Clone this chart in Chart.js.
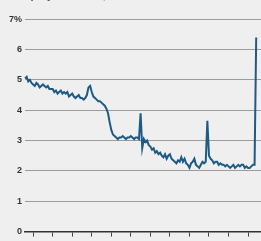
<!DOCTYPE html>
<html>
<head>
<meta charset="utf-8">
<script src="https://cdn.jsdelivr.net/npm/chart.js@4"></script>
<style>
  html, body { margin: 0; padding: 0; background: #efefef; overflow: hidden; }
  .wrap { position: relative; width: 261px; height: 241px; overflow: hidden; }
  #myChart { position: absolute; left: 0; top: -6px; }
</style>
</head>
<body>
<div class="wrap"><canvas id="myChart" width="279" height="246"></canvas></div>
<script>
const monthNames = ['Jan', 'Feb', 'Mar', 'Apr', 'May', 'Jun', 'Jul', 'Aug', 'Sep', 'Oct', 'Nov', 'Dec'];
const startYear = 2004;
const startMonth = 7; // Aug
const axisSlots = 157;

// monthly rate
const rate = [
  5.05, 5.1, 4.95, 5.0, 4.9, 4.85, 4.8, 4.9, 4.85, 4.75, 4.8, 4.85,
  4.8, 4.75, 4.8, 4.7, 4.7, 4.7, 4.6, 4.65, 4.55, 4.6, 4.65, 4.55,
  4.6, 4.55, 4.6, 4.45, 4.5, 4.55, 4.45, 4.4, 4.45, 4.5, 4.4, 4.4,
  4.35, 4.4, 4.5, 4.75, 4.8, 4.6, 4.45, 4.4, 4.35, 4.3, 4.3, 4.25,
  4.2, 4.15, 4.05, 3.9, 3.6, 3.35, 3.2, 3.15, 3.1, 3.05, 3.1, 3.1,
  3.15, 3.1, 3.05, 3.1, 3.1, 3.15, 3.1, 3.05, 3.1, 3.1, 3.05, 3.9,
  2.75, 3.05, 2.95, 3.0, 2.85, 2.8, 2.7, 2.75, 2.6, 2.65, 2.55, 2.6,
  2.5, 2.45, 2.55, 2.4, 2.5, 2.55, 2.4, 2.35, 2.3, 2.25, 2.35, 2.3,
  2.45, 2.3, 2.4, 2.25, 2.2, 2.1, 2.25, 2.3, 2.4, 2.2, 2.15, 2.1,
  2.2, 2.3, 2.25, 2.3, 3.65, 2.5, 2.4, 2.35, 2.25, 2.3, 2.3, 2.2,
  2.25, 2.2, 2.2, 2.15, 2.2, 2.15, 2.1, 2.15, 2.2, 2.1, 2.15, 2.2,
  2.15, 2.2, 2.2, 2.1, 2.15, 2.1, 2.1, 2.15, 2.2, 2.2, 6.4
];

const yTicks = [0, 1, 2, 3, 4, 5, 6, 7];

const labels = [];
for (let i = 0; i < axisSlots; i++) {
  const m = (startMonth + i) % 12;
  const y = startYear + Math.floor((startMonth + i) / 12);
  labels.push(monthNames[m] + ' ' + y);
}

const bgPlugin = {
  id: 'bg',
  beforeDraw(chart) {
    const c = chart.ctx;
    c.save();
    c.fillStyle = '#efefef';
    c.fillRect(0, 0, chart.width, chart.height);
    c.restore();
  }
};

const ctx = document.getElementById('myChart');
const myChart = new Chart(ctx, {
  type: 'line',
  data: {
    labels: labels,
    datasets: [{
      data: rate,
      borderColor: '#1d5a85',
      borderWidth: 2,
      pointRadius: 0,
      tension: 0,
      fill: false
    }]
  },
  options: {
    responsive: false,
    animation: false,
    layout: { padding: 0 },
    plugins: {
      legend: { display: false },
      tooltip: { enabled: false },
      title: {
        display: true,
        text: 'Unemployment rate, %',
        align: 'start',
        color: '#555',
        font: { family: 'Liberation Sans', size: 11 },
        padding: { top: -5, bottom: 17 }
      }
    },
    scales: {
      x: {
        type: 'category',
        offset: false,
        border: { display: true, color: '#333', width: 1.5 },
        grid: {
          drawOnChartArea: false,
          drawTicks: true,
          tickLength: 5,
          tickColor: c => (c.index % 12 === 5 ? '#444' : 'rgba(0,0,0,0)'),
          color: 'rgba(0,0,0,0)'
        },
        ticks: { display: false, autoSkip: false }
      },
      y: {
        min: 0,
        max: 7,
        afterFit(scale) { scale.width = 25; },
        afterBuildTicks(scale) { scale.ticks = yTicks.map(v => ({ value: v })); },
        border: { display: false },
        grid: {
          drawTicks: false,
          color: c => (c.tick && c.tick.value === 0 ? 'rgba(0,0,0,0)' : '#9c9c9c'),
          lineWidth: 1
        },
        ticks: {
          padding: 3,
          color: '#333',
          font: { family: 'Liberation Sans', size: 9, weight: 'bold' },
          callback: v => (v === 7 ? '7%' : String(v))
        }
      }
    }
  },
  plugins: [bgPlugin]
});
</script>
</body>
</html>
